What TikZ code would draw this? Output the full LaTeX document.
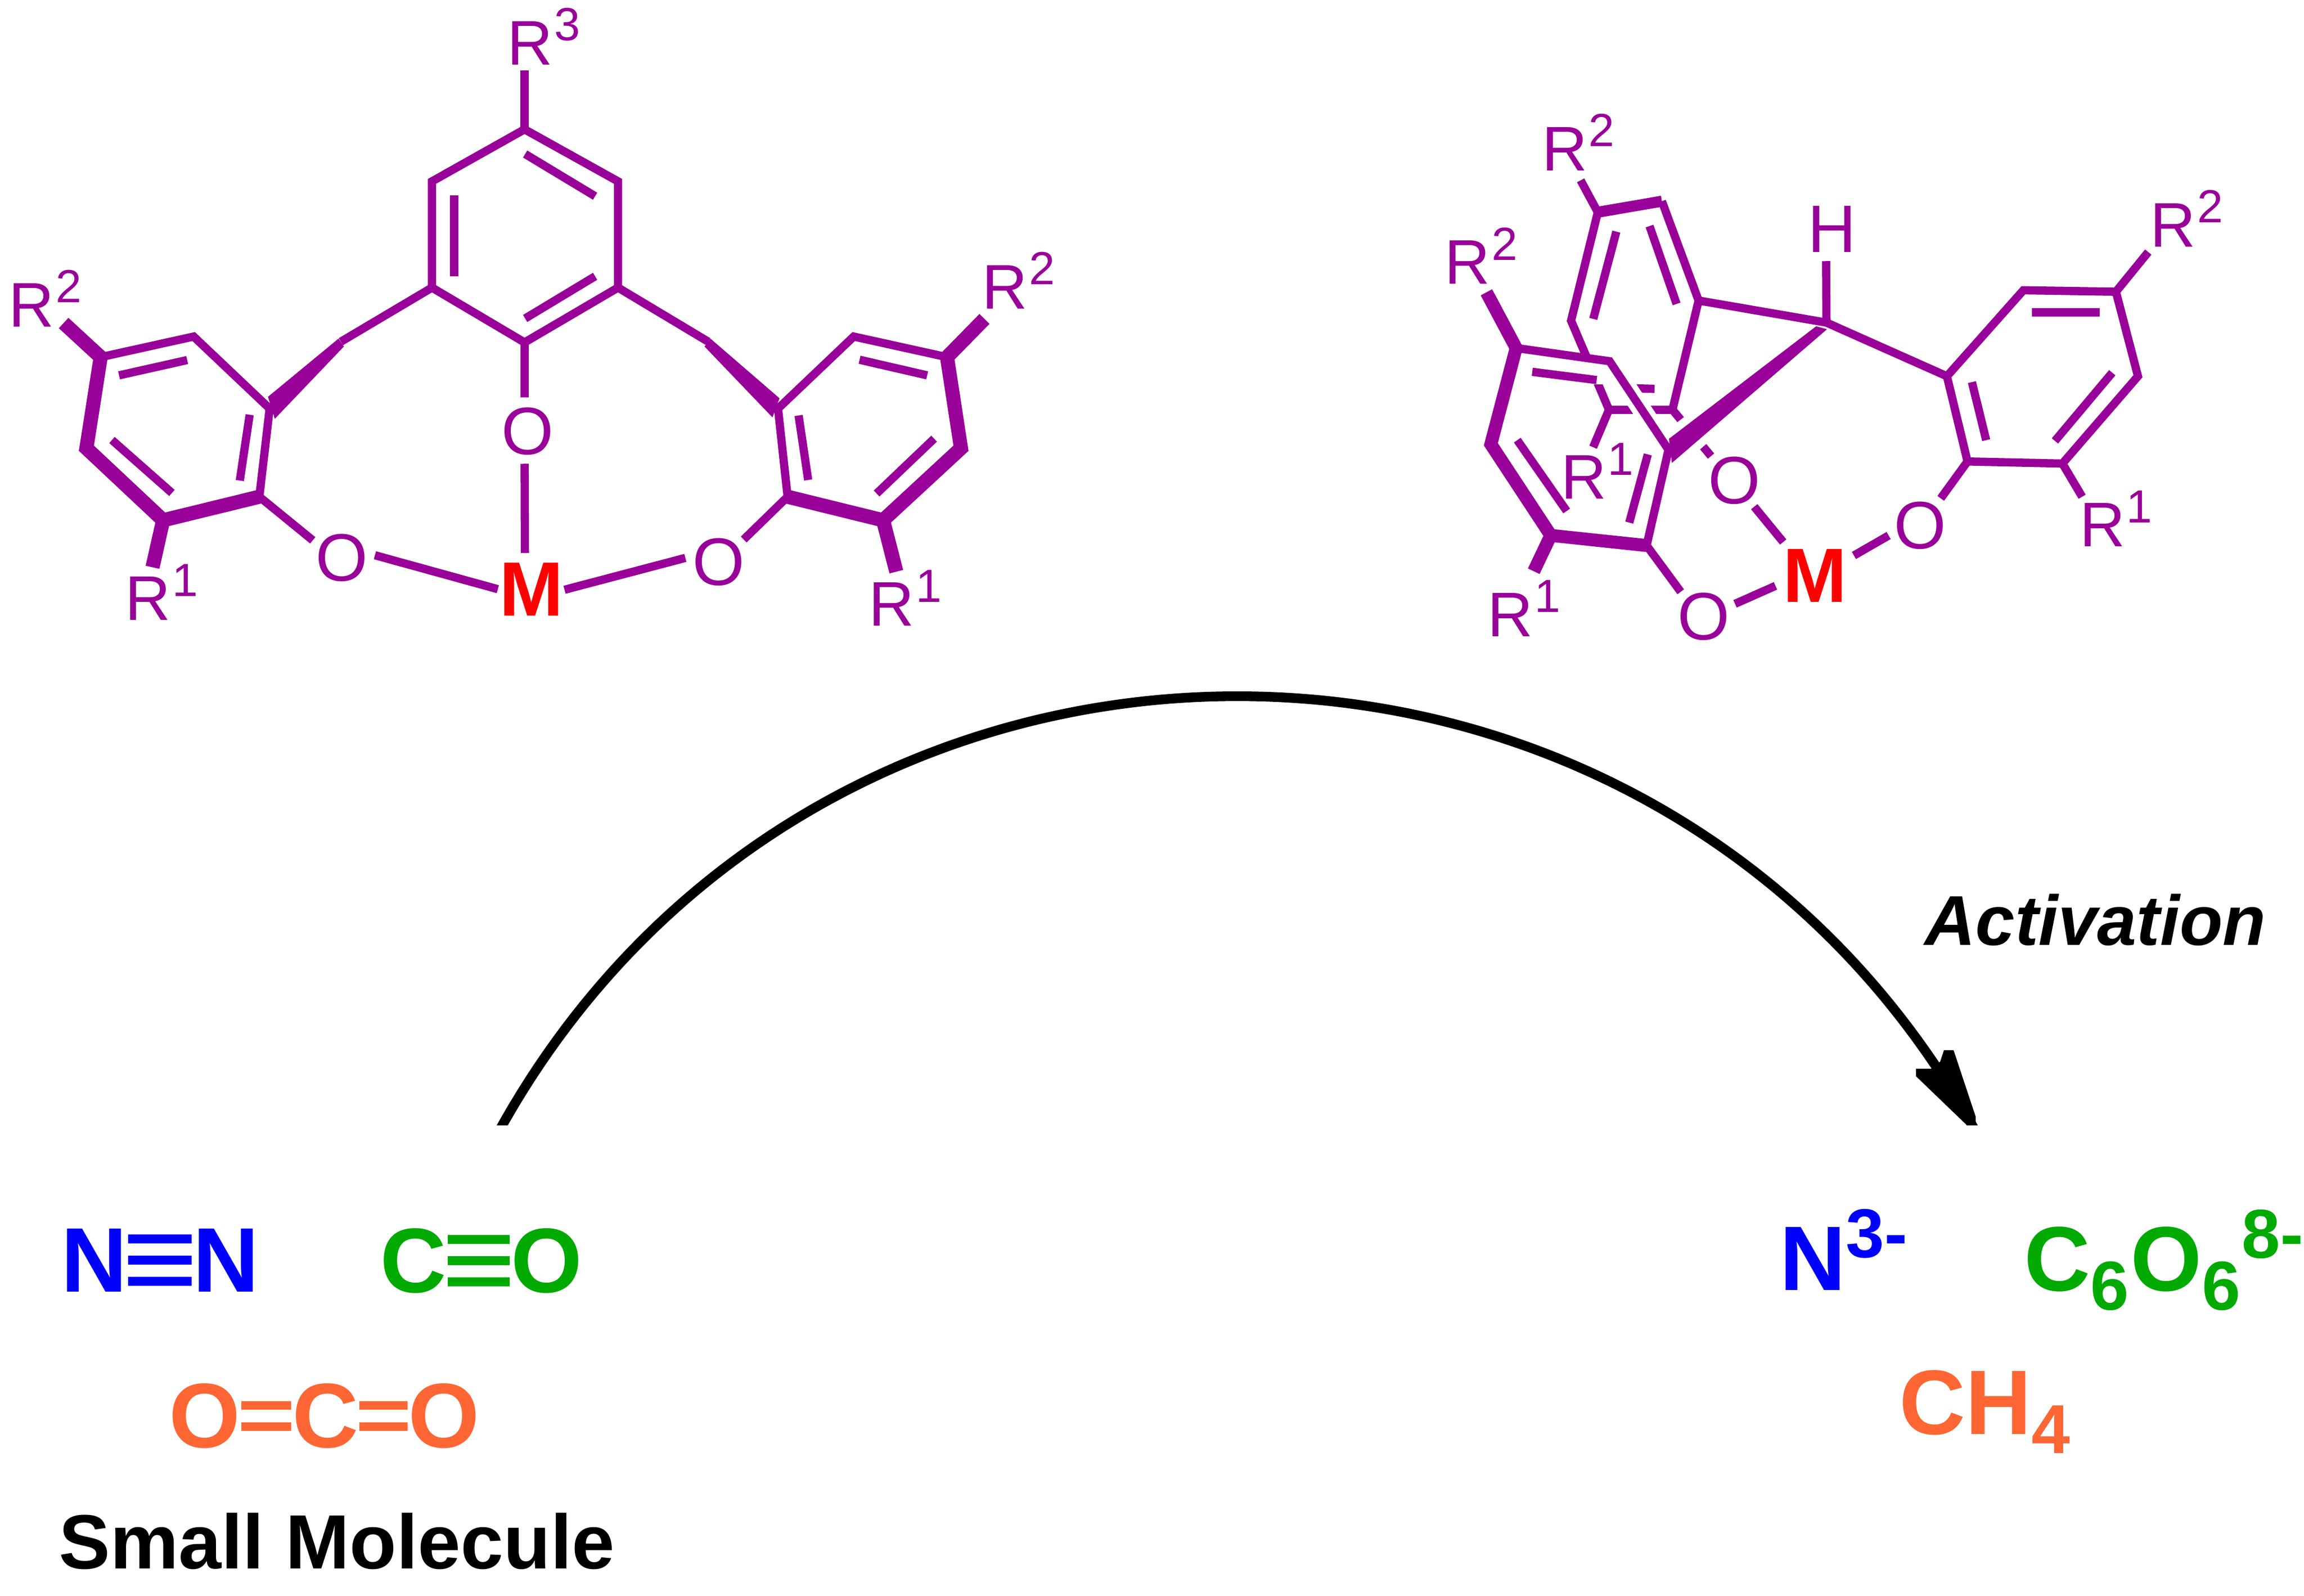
\documentclass[tikz,border=0pt]{standalone}
\usepackage{fontspec}
\setmainfont{Liberation Sans}
\usepackage{tikz}
\definecolor{molpurple}{HTML}{990099}
\definecolor{molgreen}{HTML}{00AA00}
\definecolor{molorange}{HTML}{FF6633}
\newcommand{\ctrtext}[1]{\raisebox{-.358em}[0pt][0pt]{\makebox[0pt]{#1}}}
\newcommand{\rlab}[1]{R\kern.1mm\raisebox{1.64mm}{\fontsize{9}{9}\selectfont #1}}
\newcommand{\chemsup}[1]{\raisebox{2.25mm}{\fontsize{13.4}{13.4}\selectfont #1}}
\newcommand{\chemsub}[1]{\raisebox{-1.3mm}{\fontsize{13.4}{13.4}\selectfont #1}}
\tikzstyle{bond}=[draw=molpurple,line width=0.56mm,line join=miter]
\tikzstyle{heavybond}=[draw=molpurple,line width=0.96mm,line join=miter]
\tikzstyle{oxygen}=[circle,inner sep=0pt,minimum size=4.4mm,text=molpurple,font=\fontsize{13}{13}\selectfont]
\tikzstyle{metal}=[rectangle,inner sep=0pt,text=red,font=\fontsize{14.9}{14.9}\selectfont\bfseries]
\tikzstyle{rlabel}=[anchor=base west,inner sep=0pt,text=molpurple,font=\fontsize{12.2}{12.2}\selectfont]
\tikzstyle{small}=[anchor=base,inner sep=0pt,font=\fontsize{17.75}{17.75}\selectfont\bfseries]
\tikzstyle{product}=[anchor=base west,inner sep=0pt,font=\fontsize{17.75}{17.75}\selectfont\bfseries]
\tikzstyle{smallbar}=[line width=0.6mm]

\begin{document}
\begin{tikzpicture}[x=0.1mm,y=-0.1mm]
\useasboundingbox (0,0) rectangle (1568,1086);

% atoms of the open form
\foreach \n/\x/\y in {A1/357/88,A2/420.6/123.4,A3/420.6/195.7,A4/357/233,A5/294/195.7,A6/294/123.4,
	Cl/232/232.5,Cr/482/232.5,
	B1/68.5/243,B2/131.8/229,B3/183.5/278,B4/176.5/338,B5/111/354,B6/58.8/305,
	D1/644.5/243,D2/581/229,D3/529.5/278,D4/536/338,D5/601/354,D6/654/305,
	sA/357/48,sB2/43.3/219.8,sB1/103.8/386,sD2/670/217,sD1/610/389} {
	\coordinate (\n) at (\x,\y);
};

% atoms of the folded form
\foreach \n/\x/\y in {E1/1031.8/236.8,E2/1095.4/245.8,E3/1135.5/306,E4/1120.6/371.2,E5/1055.4/364.3,E6/1014.6/302.3,
	F1/1087.4/144.4,F2/1131/136.9,F3/1156/204.5,F4/1138.2/278.8,F5/1095/278.8,F6/1069.2/218.2,
	G1/1325/256,G2/1377/197.5,G3/1440/198.5,G4/1455/256,G5/1403.6/315.4,G6/1339/314,
	C0/1243/219.5,
	sE2/1011.6/198.9,sE1/1043.8/388.7,sF2/1075.7/122.7,sF1/1084.2/304.3,sG2/1462/171.5,sG1/1417/338} {
	\coordinate (\n) at (\x,\y);
};

\node[metal,minimum width=4.4mm,minimum height=4.7mm] (M1) at (361.5,400.5) {\ctrtext{M}};
\node[metal,minimum width=5.2mm,minimum height=4.3mm] (M2) at (1235,391) {\ctrtext{M}};
\foreach \n/\x/\y/\t in {Oa/232.5/379/O,Ob/359/293/O,Oc/489/382/O,Od/1180.5/326.4/O,Oe/1159.6/419/O,Of/1306.8/357/O,H1/1246.7/155.3/H} {
	\node[oxygen] (\n) at (\x,\y) {\ctrtext{\t}};
};

\foreach \n/\x/\y/\d in {Ra/344.6/44/3,Rb/5.3/222.4/2,Rc/84.6/422/1,Rd/590.6/426/1,Re/667.6/210/2,
	Rf/1048.6/116/2,Rg/982.6/193.4/2,Rh/1061.6/339.6/1,Ri/1011.6/433/1,Rj/1462.6/168/2,Rk/1414.6/372/1} {
	\node[rlabel] (\n) at (\x,\y) {\rlab{\d}};
};

% open form
\draw[bond] (A1) -- (A2) -- (A3) -- (A4) -- (A5) -- (A6) -- cycle;
\draw[bond] (A1) -- (sA);
\draw[bond] (A4) -- (Ob.95);
\draw[bond] (Ob.265) -- (M1.100.8);
\draw[bond] (A5) -- (Cl);
\draw[bond] (A3) -- (Cr);
\fill[molpurple] (230.4,230.4) -- (182.4,270) -- (187,285) -- (234,235.8) -- cycle;
\fill[molpurple] (483.5,230.4) -- (530.5,271) -- (525.7,284) -- (479.5,235.8) -- cycle;
\draw[bond] (B1) -- (B2) -- (B3) -- (B4);
\draw[heavybond] (B1) -- (B6) -- (B5) -- (B4);
\draw[heavybond] (B1) -- (sB2);
\draw[heavybond] (B5) -- (sB1);
\draw[bond] (D1) -- (D2) -- (D3) -- (D4);
\draw[heavybond] (D1) -- (D6) -- (D5) -- (D4);
\draw[heavybond] (D1) -- (sD2);
\draw[heavybond] (D5) -- (sD1);
\draw[bond] (B4) -- (Oa.150.6);
\draw[bond] (Oa.3) -- (M1.181.3);
\draw[bond] (D4) -- (Oc.41.7);
\draw[bond] (Oc.174) -- (M1.358.7);

\foreach \n/\xa/\ya/\xb/\yb in {ia/357.4/104.8/405/133.5,ib/309/133/309/188,ic/405/188/357.4/216.7,
	id/81/255.4/127.4/245,ie/76.2/299.4/117/335.4,if/169.9/282.2/163.2/327,
	ig/585/244.8/631/255.4,ih/543.5/282.7/550/326.6,ii/635.7/298.5/596.6/335.8} {
	\coordinate (\n s) at (\xa,\ya);
	\coordinate (\n e) at (\xb,\yb);
	\draw[bond] (\n s) -- (\n e);
};

% folded form, back ring first
\draw[bond] (F2) -- (F3) -- (F4) -- (F5) -- (F6) -- (F1);
\draw[heavybond,line width=0.75mm] (F1) -- (F2);
\draw[bond] (F1) -- (sF2);
\draw[bond] (F5) -- (sF1);
\draw[bond] (F4) -- (Od.135);
\foreach \n/\xa/\ya/\xb/\yb in {ij/1100/157.6/1084.3/217,ik/1122.6/153.8/1141/206.8,il/1105/264/1126/264.6} {
	\coordinate (\n s) at (\xa,\ya);
	\coordinate (\n e) at (\xb,\yb);
	\draw[bond] (\n s) -- (\n e);
};

% front ring hides it
\fill[white] (1050,240) -- (1094,246) -- (1098,261.5) -- (1050,261.5) -- cycle;
\draw[white,line width=1.3mm] (E2) -- (E3);
\filldraw[white,line width=1.1mm] (1236,222) -- (1135.8,298.6) -- (1137.8,315) -- (1243.4,224) -- cycle;

\fill[molpurple] (1236,222) -- (1135.8,298.6) -- (1137.8,315) -- (1243.4,224) -- cycle;
\draw[bond] (E1) -- (E2) -- (E3) -- (E4);
\draw[heavybond,line width=0.88mm] (E1) -- (E6) -- (E5) -- (E4);
\draw[heavybond,line width=0.88mm] (E1) -- (sE2);
\draw[heavybond,line width=0.88mm] (E5) -- (sE1);
\draw[bond] (C0) -- (F3);
\draw[bond] (C0) -- (G1);
\draw[bond] (C0) -- (H1.260.7);
\draw[bond] (G1) -- (G2) -- (G3) -- (G4) -- (G5) -- (G6) -- cycle;
\draw[bond] (G3) -- (sG2);
\draw[bond] (G5) -- (sG1);
\draw[bond] (G6) -- (Of.52);
\draw[bond] (E4) -- (Oe.134);
\draw[bond] (Od.306) -- (M2.134.7);
\draw[bond] (Oe.21.6) -- (M2.196.7);
\draw[bond] (Of.199.7) -- (M2.26.9);
\foreach \n/\xa/\ya/\xb/\yb in {im/1042.8/253/1086.6/258.6,in/1032.6/299.5/1066.2/347.7,io/1121.4/309.2/1108.8/355.6,
	ip/1383/212.6/1429/212.6,iq/1437.5/253.6/1398.5/300,ir/1342/260/1351.7/299.5} {
	\coordinate (\n s) at (\xa,\ya);
	\coordinate (\n e) at (\xb,\yb);
	\draw[bond] (\n s) -- (\n e);
};

% reaction arrow
\coordinate (arrowstart) at (336.7,775);
\coordinate (arrowend) at (1347.3,775);
\coordinate (arrowa) at (553.7,373.3);
\coordinate (arrowb) at (1130.3,373.3);
\begin{scope}
\clip (0,0) rectangle (1568,765.5);
\draw[line width=0.66mm] (arrowstart) .. controls (arrowa) and (arrowb) .. (arrowend);
\end{scope}
\fill (1323,714.6) -- (1329.5,714.6) -- (1344.5,759.7) -- (1344.5,765.4) -- (1338.3,765.4) -- (1304,732.4)
	-- (1304,727.2) -- (1314.2,727.2) -- (1320.4,722.4) -- cycle;
\node[anchor=base,inner sep=0pt,font=\fontsize{13.66}{13.66}\selectfont\bfseries\itshape] (act) at (1426,643) {Activation};

% small molecules
\node[small,text=blue] (N1) at (64,879) {N};
\node[small,text=blue] (N2) at (153.7,879) {N};
\node[small,text=molgreen] (C1) at (281.5,879.3) {C};
\node[small,text=molgreen] (O1) at (372,879.3) {O};
\node[small,text=molorange] (O2) at (139.3,985) {O};
\node[small,text=molorange] (C2) at (221.5,985) {C};
\node[small,text=molorange] (O3) at (302.3,985) {O};
\foreach \s in {-1.44mm,0mm,1.44mm} {
	\draw[smallbar,blue] ([yshift=\s]N1.east) -- ([yshift=\s]N2.west);
	\draw[smallbar,molgreen] ([yshift=\s]C1.east) -- ([yshift=\s]O1.west);
};
\foreach \s in {-0.72mm,0.72mm} {
	\draw[smallbar,molorange] ([yshift=\s]O2.east) -- ([yshift=\s]C2.west);
	\draw[smallbar,molorange] ([yshift=\s]C2.east) -- ([yshift=\s]O3.west);
};
\node[anchor=base,inner sep=0pt,font=\fontsize{14.9}{14.9}\selectfont\bfseries] (smol) at (229.3,1067.6) {Small Molecule};

% products
\node[product,text=blue] (P1) at (1210.5,878) {N\chemsup{3-}};
\node[product,text=molgreen] (P2) at (1377,878.5) {C\chemsub{6}\kern.1mm O\chemsub{6}\kern.1mm\chemsup{8-}};
\node[product,text=molorange] (P3) at (1292,976) {CH\chemsub{4}};

\end{tikzpicture}
\end{document}
